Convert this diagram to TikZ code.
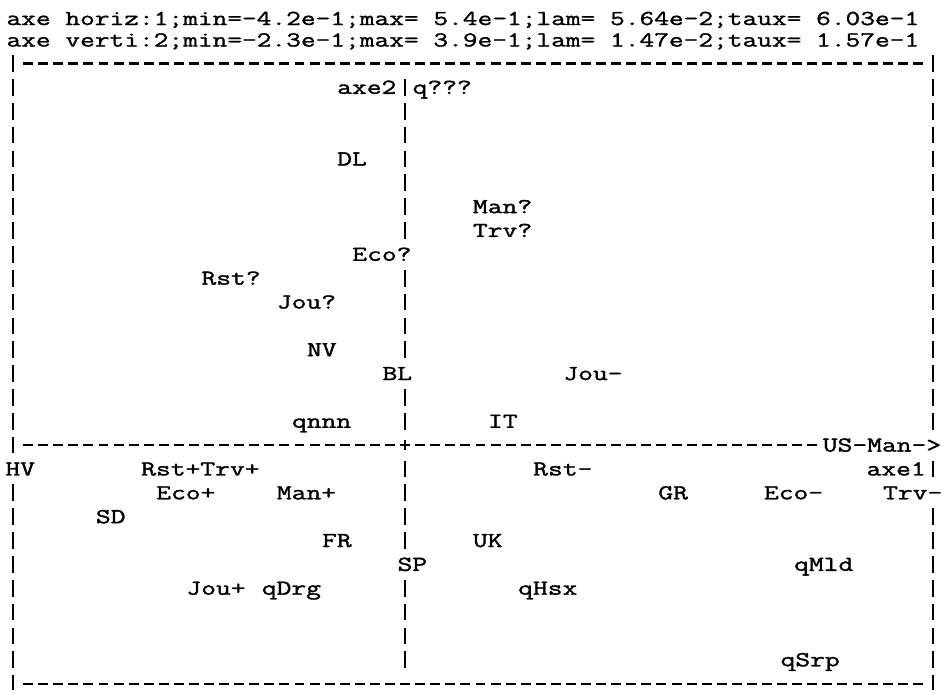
\documentclass[tikz,border=0pt]{standalone}
\usepackage{fontspec}
\newfontfamily\monobody{Latin Modern Mono}[FakeStretch=1.349,FakeBold=1.6]
\newfontfamily\monohead{Latin Modern Mono}[FakeStretch=1.342,FakeBold=1.4]
\newcommand{\bodyfont}{\monobody\fontsize{21.3pt}{24pt}\selectfont}
\newcommand{\headfont}{\monohead\fontsize{21.3pt}{24pt}\selectfont}
\begin{document}
\begin{tikzpicture}[x=15.08pt,y=-23.85pt,
  lab/.style={anchor=base west,inner sep=0pt,outer sep=0pt,font=\bodyfont,yshift=-6.5pt},
  head/.style={anchor=base west,inner sep=0pt,outer sep=0pt,font=\headfont},
  bar/.style={line width=2.2pt},
  dsh/.style={line width=2.1pt}]
\useasboundingbox (-0.862,-2.6625) rectangle (62.135,26.268);
\fill[white] (-0.862,-2.6625) rectangle (62.135,26.268);
% header
\node[head] (h1) at (-0.43,-1.614) {axe horiz:1;min=-4.2e-1;max= 5.4e-1;lam= 5.64e-2;taux= 6.03e-1};
\node[head] (h2) at (-0.43,-0.713) {axe verti:2;min=-2.3e-1;max= 3.9e-1;lam= 1.47e-2;taux= 1.57e-1};
% left border
\foreach \r in {0,...,16,18,19,...,26} \draw[bar] (0,\r-0.35) -- (0,\r+0.35);
% right border
\foreach \r in {0,...,15,17,19,20,...,26} \draw[bar] (61,\r-0.35) -- (61,\r+0.35);
% vertical axis
\foreach \r in {1,...,7,9,10,11,12,14,15,17,18,19,20,22,23,24,25} \draw[bar] (26,\r-0.35) -- (26,\r+0.35);
\draw[bar] (26,16-0.22) -- (26,16+0.22);
% top and bottom borders
\foreach \c in {1,...,60} {
  \draw[dsh] (\c-0.33,0) -- (\c+0.33,0);
  \draw[dsh] (\c-0.33,26) -- (\c+0.33,26);
}
% horizontal axis
\foreach \c in {1,...,53} \draw[dsh] (\c-0.33,16) -- (\c+0.33,16);
% labels
\node[lab] (axe2) at (21.5,1) {axe2};
\node[lab] (qqqq) at (26.5,1) {q???};
\node[lab] (DL) at (21.5,4) {DL};
\node[lab] (Manq) at (30.5,6) {Man?};
\node[lab] (Trvq) at (30.5,7) {Trv?};
\node[lab] (Ecoq) at (22.5,8) {Eco?};
\node[lab] (Rstq) at (12.5,9) {Rst?};
\node[lab] (Jouq) at (17.5,10) {Jou?};
\node[lab] (NV) at (19.5,12) {NV};
\node[lab] (BL) at (24.5,13) {BL};
\node[lab] (Joum) at (36.5,13) {Jou-};
\node[lab] (qnnn) at (18.5,15) {qnnn};
\node[lab] (IT) at (31.5,15) {IT};
\node[lab] (USMan) at (53.7,16) {US-Man->};
\node[lab] (HV) at (-0.5,17) {HV};
\node[lab] (RstTrvp) at (8.5,17) {Rst+Trv+};
\node[lab] (Rstm) at (34.5,17) {Rst-};
\node[lab] (axe1) at (56.6,17) {axe1};
\node[lab] (Ecop) at (9.5,18) {Eco+};
\node[lab] (Manp) at (17.5,18) {Man+};
\node[lab] (GR) at (42.8,18) {GR};
\node[lab] (Ecom) at (49.8,18) {Eco-};
\node[lab] (Trvm) at (57.7,18) {Trv-};
\node[lab] (SD) at (5.5,19) {SD};
\node[lab] (FR) at (20.5,20) {FR};
\node[lab] (UK) at (30.5,20) {UK};
\node[lab] (SP) at (25.5,21) {SP};
\node[lab] (qMld) at (51.8,21) {qMld};
\node[lab] (Joup) at (11.5,22) {Jou+};
\node[lab] (qDrg) at (16.5,22) {qDrg};
\node[lab] (qHsx) at (33.5,22) {qHsx};
\node[lab] (qSrp) at (50.9,25) {qSrp};
\end{tikzpicture}
\end{document}
